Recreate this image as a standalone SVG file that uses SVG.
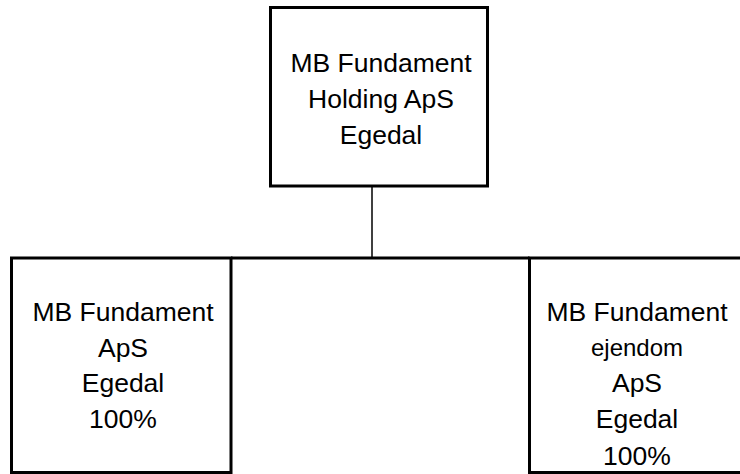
<svg xmlns="http://www.w3.org/2000/svg" width="740" height="474" viewBox="0 0 740 474">
<style>
.box{fill:#fff;stroke:#000;stroke-width:3}
.t{font-family:"Liberation Sans",Arial,sans-serif;font-size:26.5px;fill:#000;text-anchor:middle}
.s{font-size:24px}
.c{stroke:#000;stroke-width:1.5;fill:none}
</style>
<rect width="740" height="474" fill="#fff"/>
<g id="connectors">
<line class="c" x1="372" y1="186" x2="372" y2="258"/>
<line x1="231" y1="258" x2="529.5" y2="258" stroke="#000" stroke-width="3"/>
</g>
<g id="holding">
<rect class="box" x="270.5" y="7.5" width="217" height="178.5"/>
<text class="t" x="381" y="72">MB Fundament</text>
<text class="t" x="381" y="108">Holding ApS</text>
<text class="t" x="381" y="144">Egedal</text>
</g>
<g id="aps">
<rect class="box" x="11.5" y="258" width="219.5" height="214.5"/>
<text class="t" x="123" y="321">MB Fundament</text>
<text class="t" x="123" y="357">ApS</text>
<text class="t" x="123" y="392">Egedal</text>
<text class="t" x="123" y="428">100%</text>
</g>
<g id="ejendom">
<rect class="box" x="529.5" y="258" width="219.5" height="214.5"/>
<text class="t" x="637" y="321">MB Fundament</text>
<text class="t s" x="637" y="356">ejendom</text>
<text class="t" x="637" y="392">ApS</text>
<text class="t" x="637" y="428">Egedal</text>
<text class="t" x="637" y="465">100%</text>
</g>
</svg>
